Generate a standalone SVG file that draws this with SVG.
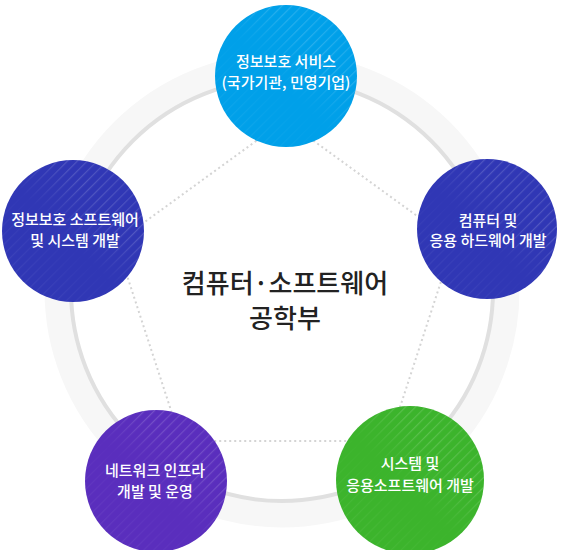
<svg xmlns="http://www.w3.org/2000/svg" width="563" height="550" viewBox="0 0 563 550">
<style>
.lbl{font-family:"Noto Sans CJK KR","Noto Sans",sans-serif;font-size:15px;font-weight:500;fill:#fff;text-anchor:middle}
.ctr{font-family:"Noto Sans CJK KR","Noto Sans",sans-serif;font-size:26px;font-weight:500;fill:#222;text-anchor:middle}
.dot{stroke:#d4d4d4;stroke-width:2;stroke-dasharray:2 3;fill:none}
</style>
<defs>
<pattern id="stripe" width="7" height="7" patternUnits="userSpaceOnUse" patternTransform="rotate(45)">
<rect x="0" y="0" width="1.2" height="7" fill="#fff"/>
</pattern>
<linearGradient id="fade" x1="0" y1="1" x2="1" y2="0">
<stop offset="0" stop-color="#fff" stop-opacity="0.5"/>
<stop offset="0.45" stop-color="#fff" stop-opacity="0.05"/>
<stop offset="0.7" stop-color="#fff" stop-opacity="0.9"/>
<stop offset="1" stop-color="#fff" stop-opacity="0.4"/>
</linearGradient>
<mask id="m" maskContentUnits="objectBoundingBox">
<rect width="1" height="1" fill="url(#fade)"/>
</mask>
</defs>
<g id="ring">
<circle cx="282" cy="290" r="224" fill="none" stroke="#f7f7f7" stroke-width="27"/>
<circle cx="282" cy="290" r="211" fill="none" stroke="#e0e0e0" stroke-width="4"/>
</g>
<g id="connectors">
<path class="dot" d="M285 120 L453.7 242.6 L389 441 L181 441 L116.3 242.6 Z"/>
</g>
<g id="center-title">
<text class="ctr" x="285" y="293">컴퓨터·소프트웨어</text>
<text class="ctr" x="285" y="328">공학부</text>
</g>
<g id="node-top">
<circle cx="286" cy="76" r="71" fill="#00a0e9"/>
<circle cx="286" cy="76" r="71" fill="url(#stripe)" opacity="0.18" mask="url(#m)"/>
<text class="lbl" x="286" y="67">정보보호 서비스</text>
<text class="lbl" x="286" y="88">(국가기관, 민영기업)</text>
</g>
<g id="node-right">
<circle cx="487" cy="229" r="70" fill="#3037b5"/>
<circle cx="487" cy="229" r="70" fill="url(#stripe)" opacity="0.18" mask="url(#m)"/>
<text class="lbl" x="488" y="226">컴퓨터 및</text>
<text class="lbl" x="488" y="246">응용 하드웨어 개발</text>
</g>
<g id="node-left">
<circle cx="73" cy="231" r="71" fill="#3037b5"/>
<circle cx="73" cy="231" r="71" fill="url(#stripe)" opacity="0.18" mask="url(#m)"/>
<text class="lbl" x="75" y="225">정보보호 소프트웨어</text>
<text class="lbl" x="75" y="246">및 시스템 개발</text>
</g>
<g id="node-bottom-left">
<circle cx="156" cy="481" r="71" fill="#5a2ebd"/>
<circle cx="156" cy="481" r="71" fill="url(#stripe)" opacity="0.18" mask="url(#m)"/>
<text class="lbl" x="155" y="476">네트워크 인프라</text>
<text class="lbl" x="155" y="497">개발 및 운영</text>
</g>
<g id="node-bottom-right">
<circle cx="410" cy="480" r="74" fill="#3cb42c"/>
<circle cx="410" cy="480" r="74" fill="url(#stripe)" opacity="0.18" mask="url(#m)"/>
<text class="lbl" x="410" y="469">시스템 및</text>
<text class="lbl" x="410" y="491">응용소프트웨어 개발</text>
</g>
</svg>
